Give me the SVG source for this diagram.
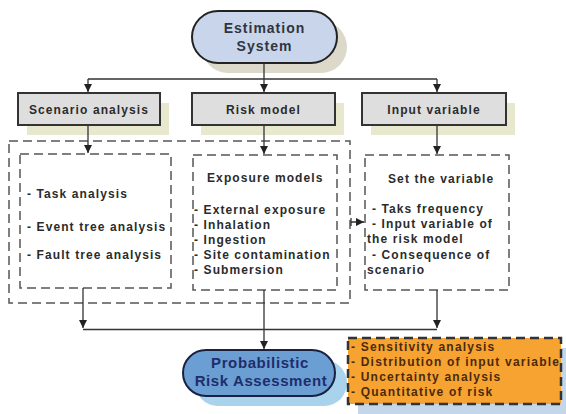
<svg xmlns="http://www.w3.org/2000/svg" width="566" height="414" viewBox="0 0 566 414">
<style>
text{font-family:"Liberation Sans",Arial,sans-serif;font-weight:bold;}
.t12{font-size:12px;letter-spacing:1.1px;fill:#2b2b2b;}
.box{fill:#dedede;stroke:#333;stroke-width:2;}
.shadow{fill:#e8e8cf;}
.dash{fill:none;stroke:#555;stroke-width:1.5;stroke-dasharray:9,5;}
.conn{fill:none;stroke:#333;stroke-width:1.3;}
.res{font-size:12px;letter-spacing:1.2px;fill:#4b2a0c;}
</style>
<defs>
<marker id="arr" markerUnits="userSpaceOnUse" markerWidth="8" markerHeight="9" refX="8" refY="4" orient="auto">
<path d="M0,0 L8,4 L0,8 z" fill="#222"/>
</marker>
</defs>
<rect width="566" height="414" fill="#fff"/>
<g id="estimation">
<rect x="202" y="21" width="145" height="52" rx="26" fill="#dcd9cb"/>
<rect x="192" y="11" width="145" height="52" rx="26" fill="#c9d5ea" stroke="#222" stroke-width="2"/>
<text x="264.5" y="33" text-anchor="middle" font-size="14" letter-spacing="1" fill="#2f3540">Estimation</text>
<text x="264.5" y="51" text-anchor="middle" font-size="14" letter-spacing="1" fill="#2f3540">System</text>
</g>
<g id="scenario">
<rect class="shadow" x="27" y="103" width="142" height="32"/>
<rect class="box" x="18" y="93" width="142" height="32"/>
<text class="t12" x="89" y="113.5" text-anchor="middle">Scenario analysis</text>
</g>
<g id="risk">
<rect class="shadow" x="201" y="103" width="143" height="32"/>
<rect class="box" x="192" y="93" width="143" height="32"/>
<text class="t12" x="263.5" y="113.5" text-anchor="middle">Risk model</text>
</g>
<g id="input">
<rect class="shadow" x="371" y="103" width="144" height="32"/>
<rect class="box" x="362" y="93" width="144" height="32"/>
<text class="t12" x="434" y="113.5" text-anchor="middle">Input variable</text>
</g>
<g id="group-outer">
<rect class="dash" x="9" y="141" width="341" height="162"/>
</g>
<g id="scenario-detail">
<rect class="dash" x="20" y="154" width="151" height="134"/>
<text class="t12" x="27" y="198">- Task analysis</text>
<text class="t12" x="27" y="231">- Event tree analysis</text>
<text class="t12" x="27" y="259">- Fault tree analysis</text>
</g>
<g id="risk-detail">
<rect class="dash" x="193" y="155" width="144" height="135"/>
<text class="t12" x="207" y="182">Exposure models</text>
<text class="t12" x="194" y="214">- External exposure</text>
<text class="t12" x="194" y="229">- Inhalation</text>
<text class="t12" x="194" y="244">- Ingestion</text>
<text class="t12" x="194" y="259">- Site contamination</text>
<text class="t12" x="194" y="274">- Submersion</text>
</g>
<g id="input-detail">
<rect class="dash" x="365" y="155" width="144" height="135"/>
<text class="t12" x="388" y="183">Set the variable</text>
<text class="t12" x="372" y="213">- Taks frequency</text>
<text class="t12" x="372" y="228">- Input variable of</text>
<text class="t12" x="367" y="243">the risk model</text>
<text class="t12" x="372" y="259">- Consequence of</text>
<text class="t12" x="367" y="274">scenario</text>
</g>
<g id="pra">
<rect x="195" y="360" width="152" height="46" rx="23" fill="#a9d2ec"/>
<rect x="183" y="350" width="152" height="46" rx="23" fill="#6b9fd4" stroke="#1a2040" stroke-width="2"/>
<text x="260" y="368" text-anchor="middle" font-size="15" letter-spacing="0.6" fill="#1f2d6b">Probabilistic</text>
<text x="261" y="386" text-anchor="middle" font-size="15" letter-spacing="0.6" fill="#1f2d6b">Risk Assessment</text>
</g>
<g id="results">
<rect x="358" y="348" width="213" height="70" fill="#c4d6ea"/>
<rect x="348" y="338" width="213" height="66" fill="#f7a331" stroke="#333" stroke-width="2.5" stroke-dasharray="9,5"/>
<text class="res" x="351" y="351">- Sensitivity analysis</text>
<text class="res" x="351" y="366">- Distribution of input variable</text>
<text class="res" x="351" y="381">- Uncertainty analysis</text>
<text class="res" x="351" y="396">- Quantitative of risk</text>
</g>
<g id="connectors">
<path class="conn" d="M264,63 V79 M88,79 H437"/>
<path class="conn" d="M88,79 V92" marker-end="url(#arr)"/>
<path class="conn" d="M264,79 V92" marker-end="url(#arr)"/>
<path class="conn" d="M437,79 V92" marker-end="url(#arr)"/>
<path class="conn" d="M88,125 V153" marker-end="url(#arr)"/>
<path class="conn" d="M264,125 V154" marker-end="url(#arr)"/>
<path class="conn" d="M437,125 V154" marker-end="url(#arr)"/>
<path class="conn" d="M83,288 V328" marker-end="url(#arr)"/>
<path class="conn" d="M437,290 V328" marker-end="url(#arr)"/>
<path class="conn" d="M83,329.5 H437"/>
<path class="conn" d="M264,290 V349" marker-end="url(#arr)"/>
<path class="conn" d="M351,218 V226 M351,222 H364" marker-end="url(#arr)"/>
</g>
</svg>
